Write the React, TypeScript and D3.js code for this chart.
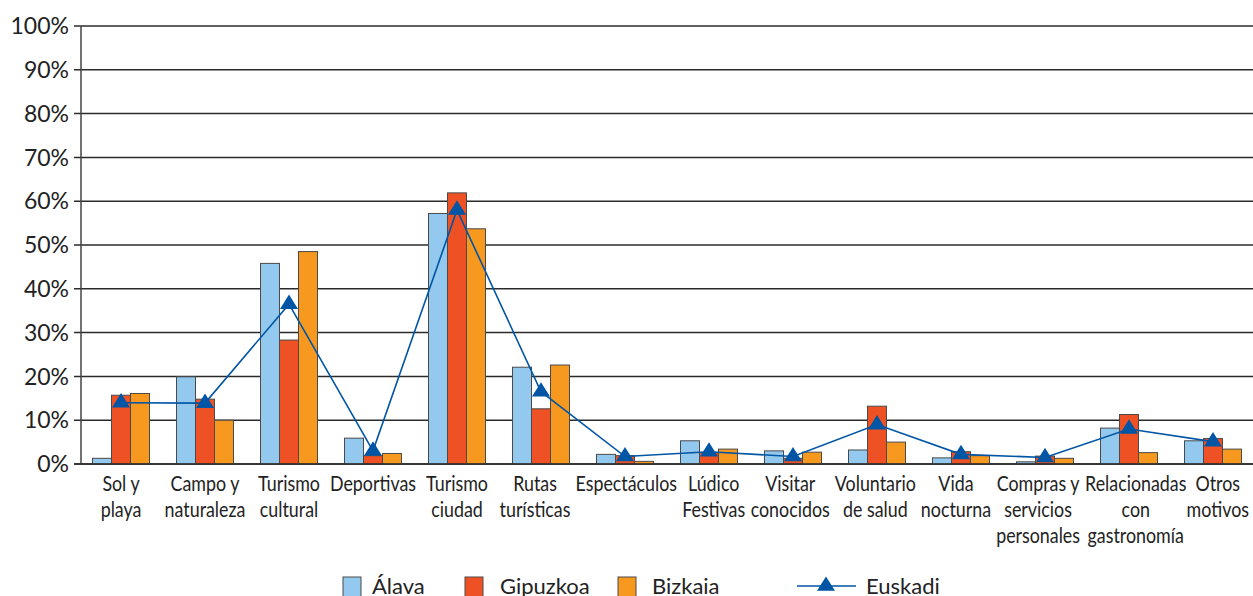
import React from "react";
import * as d3 from "d3";

const categories = [
  "Sol y\nplaya",
  "Campo y\nnaturaleza",
  "Turismo\ncultural",
  "Deportivas",
  "Turismo\nciudad",
  "Rutas\nturísticas",
  "Espectáculos",
  "Lúdico\nFestivas",
  "Visitar\nconocidos",
  "Voluntario\nde salud",
  "Vida\nnocturna",
  "Compras y\nservicios\npersonales",
  "Relacionadas\ncon\ngastronomía",
  "Otros\nmotivos",
];

const alava = [1.3, 19.9, 45.8, 5.9, 57.2, 22.1, 2.2, 5.3, 3.0, 3.2, 1.4, 0.5, 8.2, 5.3];
const gipuzkoa = [15.7, 14.8, 28.3, 1.9, 61.9, 12.6, 1.9, 2.6, 1.3, 13.2, 2.8, 1.8, 11.3, 5.8];
const bizkaia = [16.1, 10.0, 48.5, 2.4, 53.7, 22.6, 0.6, 3.4, 2.7, 5.0, 1.9, 1.3, 2.6, 3.4];
const euskadi = [14.0, 13.9, 36.5, 3.0, 58.0, 16.5, 1.7, 2.8, 1.7, 9.0, 2.2, 1.5, 8.0, 5.1];

const yTicks = [0, 10, 20, 30, 40, 50, 60, 70, 80, 90, 100];
const barSeries = ["Álava", "Gipuzkoa", "Bizkaia"];
const lineSeries = "Euskadi";

const COLORS = ["#93c9ee", "#ee5224", "#f7991f"];
const LINE_COLOR = "#0055a5";
const FONT = "Lato, 'DejaVu Sans', sans-serif";
const LABEL_SIZE = 21;
const LABEL_SX = 0.85;

function measure(text: string): number {
  if (typeof document === "undefined") return text.length * 9;
  const c = document.createElement("canvas").getContext("2d");
  if (!c) return text.length * 9;
  c.font = `${LABEL_SIZE}px Lato`;
  return c.measureText(text).width * LABEL_SX;
}

export default function App() {
  const W = 1253;
  const H = 596;
  const left = 81;
  const right = 1255;
  const top = 26;
  const bottom = 464;

  const x = d3.scaleBand<number>().domain(d3.range(categories.length)).range([left - 2, right]).padding(0);
  const groupW = 57;
  const inner = d3.scaleBand<number>().domain([0, 1, 2]).range([0, groupW]).padding(0);
  const y = d3.scaleLinear().domain([0, 100]).range([bottom, top]);

  const seriesData = [alava, gipuzkoa, bizkaia];
  const cx = (i: number) => (x(i) as number) + x.bandwidth() / 2;

  // label placement with simple collision relaxation
  const widths = categories.map((c) => d3.max(c.split("\n"), (ln) => measure(ln)) as number);
  const pos = categories.map((_, i) => cx(i));
  const gap = 5;
  for (let it = 0; it < 20; it++) {
    for (let i = 0; i < pos.length - 1; i++) {
      const r = pos[i] + widths[i] / 2;
      const l = pos[i + 1] - widths[i + 1] / 2;
      const ov = r + gap - l;
      if (ov > 0) {
        pos[i] -= ov / 2;
        pos[i + 1] += ov / 2;
      }
    }
  }
  for (let i = 0; i < pos.length; i++) {
    const maxR = W - 4 - widths[i] / 2;
    if (pos[i] > maxR) pos[i] = maxR;
  }

  const line = d3
    .line<number>()
    .x((_, i) => cx(i))
    .y((d) => y(d));

  const tri = (px: number, py: number, s = 9) => {
    const h = s * 1.6;
    return `M${px},${py - (2 / 3) * h} L${px + s},${py + h / 3} L${px - s},${py + h / 3} Z`;
  };

  const legendItems = [
    { sq: 343, tx: 372 },
    { sq: 465, tx: 500 },
    { sq: 618, tx: 652 },
  ];

  return (
    <svg
      width={W}
      height={H}
      style={{ position: "fixed", left: 0, top: 0, background: "#fff" }}
      fontFamily={FONT}
    >
      {yTicks.map((t) => (
        <g key={t}>
          <line x1={74} x2={W} y1={y(t)} y2={y(t)} stroke="#2b2b2b" strokeWidth={1.5} />
          <text x={69} y={y(t)} dy="0.36em" textAnchor="end" fontSize={23} fill="#222">
            {t}%
          </text>
        </g>
      ))}
      <line x1={left} x2={left} y1={top} y2={bottom} stroke="#444" strokeWidth={1.5} />

      {seriesData.map((vals, s) =>
        vals.map((v, i) => {
          const bx = cx(i) - groupW / 2 + (inner(s) as number);
          return (
            <rect
              key={`${s}-${i}`}
              x={bx}
              y={y(v)}
              width={inner.bandwidth()}
              height={bottom - y(v)}
              fill={COLORS[s]}
              stroke="#4a4a4a"
              strokeWidth={1}
            />
          );
        })
      )}
      <line x1={74} x2={W} y1={bottom} y2={bottom} stroke="#2b2b2b" strokeWidth={1.5} />

      <path d={line(euskadi) || ""} fill="none" stroke={LINE_COLOR} strokeWidth={1.6} />
      {euskadi.map((v, i) => (
        <path key={i} d={tri(cx(i), y(v))} fill={LINE_COLOR} />
      ))}

      {categories.map((c, i) => (
        <g key={i} transform={`translate(${pos[i]},0) scale(${LABEL_SX},1)`}>
          <text x={0} y={491} textAnchor="middle" fontSize={LABEL_SIZE} fill="#222">
            {c.split("\n").map((ln, k) => (
              <tspan key={k} x={0} dy={k === 0 ? 0 : 26}>
                {ln}
              </tspan>
            ))}
          </text>
        </g>
      ))}

      {barSeries.map((name, s) => (
        <g key={name}>
          <rect x={legendItems[s].sq} y={577} width={18} height={20} fill={COLORS[s]} stroke="#4a4a4a" strokeWidth={1} />
          <text x={legendItems[s].tx} y={594} fontSize={22} fill="#222">
            {name}
          </text>
        </g>
      ))}
      <line x1={797} x2={856} y1={586} y2={586} stroke={LINE_COLOR} strokeWidth={1.6} />
      <path d={tri(826, 586)} fill={LINE_COLOR} />
      <text x={866} y={594} fontSize={22} fill="#222">
        {lineSeries}
      </text>
    </svg>
  );
}
